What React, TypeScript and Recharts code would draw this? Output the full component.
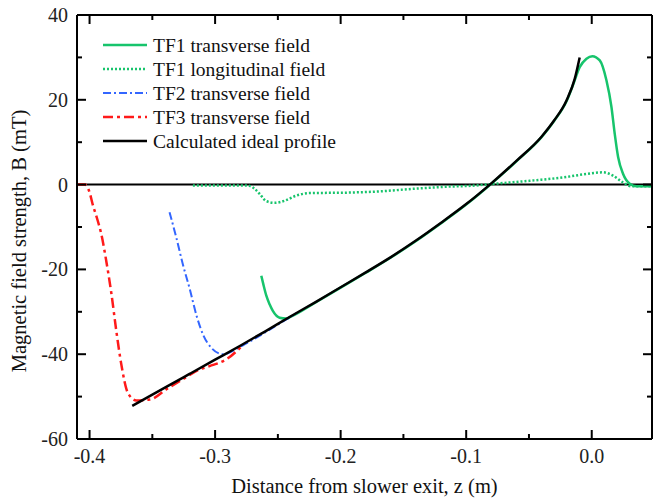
import React from 'react';
import {
  LineChart,
  Line,
  XAxis,
  YAxis,
  ReferenceLine
} from 'recharts';

// z (m), B (mT) pairs
const tf1Transverse: [number, number][] = [
  [-0.2632, -21.5], [-0.2615, -23.6], [-0.2592, -26.2], [-0.2565, -28.3], [-0.254, -29.8],
  [-0.2486, -31.4], [-0.2433, -31.6], [-0.24, -31.2], [-0.22, -27.8], [-0.2, -24.3],
  [-0.18, -20.8], [-0.16, -17.2], [-0.14, -13.3], [-0.12, -9.1], [-0.1, -4.7],
  [-0.08, 0.2], [-0.06, 5.5], [-0.04, 11.2], [-0.03, 15.0], [-0.02, 19.7],
  [-0.0149, 23.5], [-0.0096, 27.7], [-0.0042, 29.7], [0.0005, 30.3], [0.0064, 29.3],
  [0.0117, 24.6], [0.0157, 18.3], [0.0183, 12.0], [0.021, 6.5], [0.025, 2.5],
  [0.0303, 0.2], [0.0356, -0.4], [0.048, -0.4]
];

const tf1Longitudinal: [number, number][] = [
  [-0.3177, -0.2], [-0.2751, -0.2], [-0.2725, -0.3], [-0.2685, -1.0], [-0.2645, -2.2],
  [-0.2592, -3.9], [-0.2526, -4.3], [-0.2446, -3.8], [-0.2353, -2.6], [-0.2247, -2.0],
  [-0.1955, -1.9], [-0.1689, -1.6], [-0.1424, -1.0], [-0.1158, -0.5], [-0.0919, -0.2],
  [-0.0813, 0.1], [-0.0494, 0.9], [-0.0229, 1.7], [-0.0042, 2.5], [0.009, 2.9],
  [0.017, 2.1], [0.025, 0.5], [0.0316, -0.4], [0.048, -0.4]
];

const tf2Transverse: [number, number][] = [
  [-0.3363, -6.5], [-0.3309, -12.5], [-0.3257, -18.8], [-0.3203, -24.5], [-0.3145, -31.2],
  [-0.3097, -35.3], [-0.303, -38.5], [-0.2938, -40.0], [-0.2778, -37.9], [-0.2592, -34.7],
  [-0.2433, -31.8], [-0.235, -30.3]
];

const tf3Transverse: [number, number][] = [
  [-0.4104, 0], [-0.404, 0], [-0.4, -1.8], [-0.3974, -4.8], [-0.394, -8.0], [-0.3907, -11.6],
  [-0.3867, -18.0], [-0.3827, -25.5], [-0.3787, -34.5], [-0.3747, -42.4], [-0.3695, -49.1],
  [-0.3628, -50.9], [-0.352, -50.7], [-0.339, -48.3], [-0.3257, -45.9], [-0.3124, -43.6],
  [-0.3044, -42.8], [-0.291, -41.2], [-0.278, -37.9]
];

const idealProfile: [number, number][] = [
  [-0.366, -52.2], [-0.34, -47.9], [-0.32, -44.6], [-0.3, -41.3], [-0.28, -38.0],
  [-0.26, -34.6], [-0.24, -31.1], [-0.22, -27.7], [-0.2, -24.2], [-0.18, -20.7],
  [-0.16, -17.1], [-0.14, -13.2], [-0.12, -9.0], [-0.1, -4.6], [-0.08, 0.3],
  [-0.06, 5.6], [-0.04, 11.3], [-0.03, 15.1], [-0.02, 19.9], [-0.0135, 25.0],
  [-0.0096, 30.0]
];

const xTicks = [-0.4, -0.35, -0.3, -0.25, -0.2, -0.15, -0.1, -0.05, 0];
const yTicks = [-60, -50, -40, -30, -20, -10, 0, 10, 20, 30, 40];

const FONT = '"Liberation Serif", "Times New Roman", serif';

const toRows = (pts: [number, number][]) => pts.map(([z, b]) => ({ z, b }));

const series = [
  { name: 'TF1 transverse field', data: tf1Transverse, color: '#17c46c', dash: undefined, width: 2.5 },
  { name: 'TF1 longitudinal field', data: tf1Longitudinal, color: '#17c46c', dash: '2 2', width: 2.5 },
  { name: 'TF2 transverse field', data: tf2Transverse, color: '#3366ff', dash: '8 3 2 3', width: 2 },
  { name: 'TF3 transverse field', data: tf3Transverse, color: '#ff1a1a', dash: '10 4 3 4', width: 2.5 },
  { name: 'Calculated ideal profile', data: idealProfile, color: '#000000', dash: undefined, width: 2.5 }
];

const isMajorX = (v: number) => Math.abs(v * 10 - Math.round(v * 10)) < 1e-6;
const isMajorY = (v: number) => Math.abs(v % 20) < 1e-6;

const BottomTick = (props: any) => {
  const { x, y, payload } = props;
  const major = isMajorX(payload.value);
  return (
    <g>
      <line x1={x} x2={x} y1={y} y2={y - (major ? 9 : 5)} stroke="#000" strokeWidth={2} />
      {major && (
        <text x={x} y={y + 24} textAnchor="middle" fontFamily={FONT} fontSize={20} fill="#222">
          {payload.value.toFixed(1)}
        </text>
      )}
    </g>
  );
};

const TopTick = (props: any) => {
  const { x, y, payload } = props;
  const major = isMajorX(payload.value);
  return <line x1={x} x2={x} y1={y} y2={y + (major ? 9 : 5)} stroke="#000" strokeWidth={2} />;
};

const LeftTick = (props: any) => {
  const { x, y, payload } = props;
  const major = isMajorY(payload.value);
  return (
    <g>
      <line x1={x} x2={x + (major ? 9 : 5)} y1={y} y2={y} stroke="#000" strokeWidth={2} />
      {major && (
        <text x={x - 9} y={y} dy={7} textAnchor="end" fontFamily={FONT} fontSize={20} fill="#222">
          {payload.value}
        </text>
      )}
    </g>
  );
};

const RightTick = (props: any) => {
  const { x, y, payload } = props;
  const major = isMajorY(payload.value);
  return <line x1={x} x2={x - (major ? 9 : 5)} y1={y} y2={y} stroke="#000" strokeWidth={2} />;
};

const LegendBox = () => (
  <svg width={300} height={130} style={{ position: 'absolute', left: 95, top: 30 }}>
    {series.map((s, i) => {
      const cy = 15 + i * 24;
      return (
        <g key={s.name}>
          <line x1={8} x2={52} y1={cy} y2={cy} stroke={s.color} strokeWidth={s.width} strokeDasharray={s.dash} />
          <text x={58} y={cy} dy={6.5} fontFamily={FONT} fontSize={19.5} fill="#111">
            {s.name}
          </text>
        </g>
      );
    })}
  </svg>
);

export default function App() {
  return (
    <div style={{ position: 'absolute', left: 0, top: 0, width: 653, height: 498, background: '#fff' }}>
      <LineChart width={653} height={498} margin={{ top: 0, right: 0, bottom: 0, left: 0 }}>
        <XAxis
          dataKey="z"
          type="number"
          domain={[-0.41, 0.048]}
          ticks={xTicks}
          interval={0}
          allowDataOverflow
          height={59}
          tickSize={0}
          tickMargin={0}
          tickLine={false}
          axisLine={{ stroke: '#000', strokeWidth: 2 }}
          tick={BottomTick}
          label={{
            content: (p: any) => {
              const vb = p.viewBox;
              return (
                <text x={vb.x + vb.width / 2} y={vb.y + 54} textAnchor="middle" fontFamily={FONT} fontSize={20.5} fill="#111">
                  Distance from slower exit, z (m)
                </text>
              );
            }
          }}
        />
        <XAxis
          xAxisId="top"
          orientation="top"
          dataKey="z"
          type="number"
          domain={[-0.41, 0.048]}
          ticks={xTicks}
          interval={0}
          allowDataOverflow
          height={15}
          tickSize={0}
          tickMargin={0}
          tickLine={false}
          axisLine={{ stroke: '#000', strokeWidth: 2 }}
          tick={TopTick}
        />
        <YAxis
          type="number"
          domain={[-60, 40]}
          ticks={yTicks}
          interval={0}
          allowDataOverflow
          width={77}
          tickSize={0}
          tickMargin={0}
          tickLine={false}
          axisLine={{ stroke: '#000', strokeWidth: 2 }}
          tick={LeftTick}
          label={{
            content: () => (
              <text x={26} y={241} transform="rotate(-90 26 241)" textAnchor="middle" fontFamily={FONT} fontSize={20.5} fill="#111">
                Magnetic field strength, B (mT)
              </text>
            )
          }}
        />
        <YAxis
          yAxisId="right"
          orientation="right"
          type="number"
          domain={[-60, 40]}
          ticks={yTicks}
          interval={0}
          allowDataOverflow
          width={1}
          tickSize={0}
          tickMargin={0}
          tickLine={false}
          axisLine={{ stroke: '#000', strokeWidth: 2 }}
          tick={RightTick}
        />
        <ReferenceLine y={0} stroke="#000" strokeWidth={2} />
        <Line data={toRows(tf1Longitudinal)} dataKey="b" type="monotone" stroke="#17c46c" strokeWidth={2.5} strokeDasharray="2 2" dot={false} activeDot={false} isAnimationActive={false} />
        <Line data={toRows(tf1Transverse)} dataKey="b" type="monotone" stroke="#17c46c" strokeWidth={2.5} dot={false} activeDot={false} isAnimationActive={false} />
        <Line data={toRows(tf2Transverse)} dataKey="b" type="monotone" stroke="#3366ff" strokeWidth={2} strokeDasharray="8 3 2 3" dot={false} activeDot={false} isAnimationActive={false} />
        <Line data={toRows(tf3Transverse)} dataKey="b" type="monotone" stroke="#ff1a1a" strokeWidth={2.5} strokeDasharray="10 4 3 4" dot={false} activeDot={false} isAnimationActive={false} />
        <Line data={toRows(idealProfile)} dataKey="b" type="monotone" stroke="#000" strokeWidth={2.5} dot={false} activeDot={false} isAnimationActive={false} />
      </LineChart>
      <LegendBox />
    </div>
  );
}
